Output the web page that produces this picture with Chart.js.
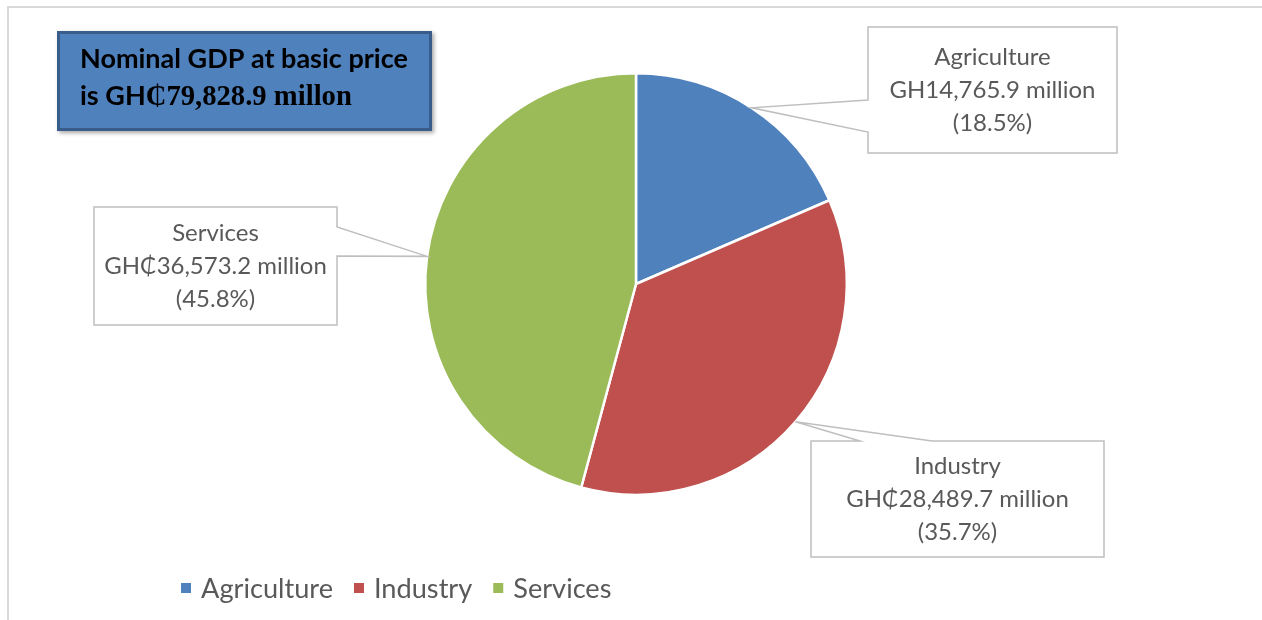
<!DOCTYPE html>
<html>
<head>
<meta charset="utf-8">
<script src="https://cdn.jsdelivr.net/npm/chart.js@4"></script>
<style>
  html, body { margin: 0; padding: 0; background: #fff; }
  #wrap { width: 1262px; height: 620px; position: relative; }
</style>
</head>
<body>
<div id="wrap"><canvas id="gdpPie" width="1262" height="620"></canvas></div>
<script>
// data
const sectors = ["Agriculture", "Industry", "Services"];
const valuesGHmillion = [14765.9, 28489.7, 36573.2];
const sharePct = [18.5, 35.7, 45.8];
const currencyPrefix = ["GH", "GH\u20B5", "GH\u20B5"];
const sectorColors = ["#4F81BD", "#C0504D", "#9BBB59"];
const totalText = "79,828.9";

// callout boxes: x1, y1, x2, y2, which side opens to the pie, gap on that side
const callouts = [
  { box: [868, 27, 1117, 153], side: "left", gap: [100, 132] },
  { box: [811, 441, 1104, 557], side: "top", gap: [860, 932] },
  { box: [94, 207, 337, 325], side: "right", gap: [227, 256] },
];

const fmt = (v) => v.toLocaleString("en-US", { minimumFractionDigits: 1, maximumFractionDigits: 1 });

function fitFont(ctx, weight, family, text, targetW) {
  ctx.font = weight + " 20px " + family;
  const w = ctx.measureText(text).width;
  return 20 * targetW / w;
}

const decor = {
  id: "decor",
  beforeDraw(chart) {
    const ctx = chart.ctx;
    ctx.save();
    ctx.fillStyle = "#fff";
    ctx.fillRect(0, 0, chart.width, chart.height);
    // outer frame
    ctx.strokeStyle = "#D9D9D9";
    ctx.lineWidth = 2;
    ctx.beginPath();
    ctx.moveTo(8, 620);
    ctx.lineTo(8, 7);
    ctx.lineTo(1262, 7);
    ctx.stroke();
    ctx.restore();
  },
  afterDatasetsDraw(chart) {
    const ctx = chart.ctx;
    const arcs = chart.getDatasetMeta(0).data;
    ctx.save();

    // callouts
    const lblFamily = "Lato, 'Open Sans', sans-serif";
    const lblSize = fitFont(ctx, "normal", lblFamily, "GH14,765.9 million", 206);
    arcs.forEach((arc, i) => {
      const p = arc.getProps(["x", "y", "startAngle", "endAngle", "outerRadius"], true);
      const mid = (p.startAngle + p.endAngle) / 2;
      const ax = p.x + Math.cos(mid) * p.outerRadius;
      const ay = p.y + Math.sin(mid) * p.outerRadius;
      const c = callouts[i];
      const [x1, y1, x2, y2] = c.box;
      const [ga, gb] = c.gap;
      ctx.beginPath();
      ctx.moveTo(x1, y1);
      if (c.side === "top") { ctx.lineTo(ga, y1); ctx.lineTo(ax, ay); ctx.lineTo(gb, y1); }
      ctx.lineTo(x2, y1);
      if (c.side === "right") { ctx.lineTo(x2, ga); ctx.lineTo(ax, ay); ctx.lineTo(x2, gb); }
      ctx.lineTo(x2, y2);
      ctx.lineTo(x1, y2);
      if (c.side === "left") { ctx.lineTo(x1, gb); ctx.lineTo(ax, ay); ctx.lineTo(x1, ga); }
      ctx.closePath();
      ctx.fillStyle = "#fff";
      ctx.fill();
      ctx.strokeStyle = "#BFBFBF";
      ctx.lineWidth = 1.5;
      ctx.stroke();

      const lines = [
        chart.data.labels[i],
        currencyPrefix[i] + fmt(valuesGHmillion[i]) + " million",
        "(" + sharePct[i].toFixed(1) + "%)",
      ];
      ctx.fillStyle = "#595959";
      ctx.font = lblSize.toFixed(2) + "px " + lblFamily;
      ctx.textAlign = "center";
      ctx.textBaseline = "middle";
      const cx = (x1 + x2) / 2, cy = (y1 + y2) / 2;
      lines.forEach((t, k) => ctx.fillText(t, cx, cy + (k - 1) * 33));
    });

    // title box
    ctx.save();
    ctx.shadowColor = "rgba(0,0,0,0.35)";
    ctx.shadowBlur = 4;
    ctx.shadowOffsetX = 2;
    ctx.shadowOffsetY = 2;
    ctx.fillStyle = "#4F81BD";
    ctx.fillRect(57, 31, 375, 100);
    ctx.restore();
    ctx.strokeStyle = "#385D8A";
    ctx.lineWidth = 3;
    ctx.strokeRect(58.5, 32.5, 372, 97);

    const sansB = "Lato, 'Liberation Sans', sans-serif";
    const serifB = "'Liberation Serif', 'Times New Roman', serif";
    const tSize = fitFont(ctx, "bold", sansB, "Nominal GDP at basic price", 328);
    ctx.fillStyle = "#000";
    ctx.textAlign = "left";
    ctx.textBaseline = "alphabetic";
    ctx.font = "bold " + tSize.toFixed(2) + "px " + sansB;
    ctx.fillText("Nominal GDP at basic price", 80, 68);
    ctx.fillText("is GH", 80, 105);
    const w1 = ctx.measureText("is GH").width;
    const rest = "\u20B5" + totalText + " millon";
    const sSize = fitFont(ctx, "bold", serifB, rest, 352 - 80 - w1);
    ctx.font = "bold " + sSize.toFixed(2) + "px " + serifB;
    ctx.fillText(rest, 80 + w1, 105);

    // legend
    const legFamily = lblFamily;
    const legSize = fitFont(ctx, "normal", legFamily, "Agriculture", 132);
    ctx.font = legSize.toFixed(2) + "px " + legFamily;
    ctx.textBaseline = "middle";
    let lx = 181;
    const ly = 588;
    chart.data.labels.forEach((name, i) => {
      ctx.fillStyle = chart.data.datasets[0].backgroundColor[i];
      ctx.fillRect(lx, ly - 5, 10, 10);
      ctx.fillStyle = "#595959";
      ctx.fillText(name, lx + 20, ly + 1);
      lx += 20 + ctx.measureText(name).width + 21;
    });

    ctx.restore();
  },
};

new Chart(document.getElementById("gdpPie").getContext("2d"), {
  type: "pie",
  data: {
    labels: sectors,
    datasets: [
      {
        data: valuesGHmillion,
        backgroundColor: sectorColors,
        borderColor: "#fff",
        borderWidth: 2.5,
      },
    ],
  },
  options: {
    responsive: false,
    animation: false,
    layout: {
      padding: { left: 424, right: 414, top: 72, bottom: 124 },
    },
    plugins: {
      legend: { display: false },
      tooltip: { enabled: false },
    },
  },
  plugins: [decor],
});
</script>
</body>
</html>
